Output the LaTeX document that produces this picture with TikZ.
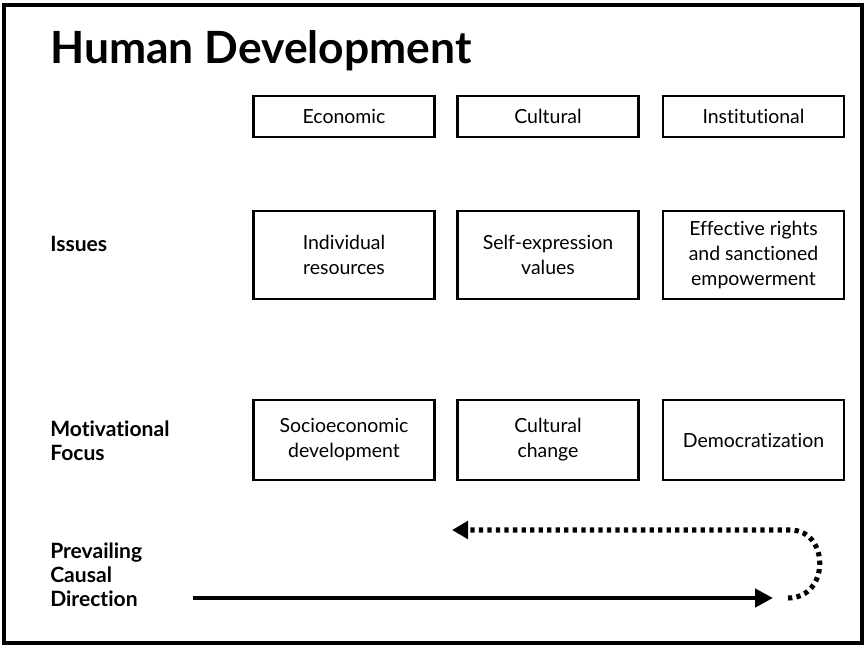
\documentclass[tikz,border=0pt]{standalone}
\usepackage{fontspec}
\setmainfont{Lato}[Ligatures=NoCommon]
\usetikzlibrary{arrows.meta}

\tikzset{
  box/.style={draw, line width=2.2pt, minimum width=135.75pt, inner sep=0pt,
    align=center, font=\fontsize{14.6}{18.75}\selectfont},
  rowlabel/.style={anchor=west, align=left, inner sep=0pt,
    font=\bfseries\fontsize{15.8}{18}\selectfont},
}

\begin{document}
\begin{tikzpicture}[x=0.75pt, y=-0.75pt]
  \useasboundingbox (0,0) rectangle (866,646);

  % frame
  \draw[line width=2.4pt] (4,5) rectangle (862,643);

  \node[anchor=base west, inner sep=0pt, font=\bfseries\fontsize{33.3}{40}\selectfont]
    (title) at (50,63) {Human Development};

  % row labels
  \node[rowlabel] (issues) at (50,244) {Issues};
  \node[rowlabel] (motiv) at (50,441) {Motivational\\Focus};
  \node[rowlabel] (prevail) at (50,575) {Prevailing\\Causal\\Direction};

  % column headings
  \foreach \name/\x/\txt in {econ/344/Economic, cult/548/Cultural, inst/753.5/Institutional} {
    \node[box, minimum height=30.75pt] (\name) at (\x,116.5) {\txt};
  }

  % issues
  \node[box, minimum height=66pt] (resources) at (344,255) {Individual\\resources};
  \node[box, minimum height=66pt] (values) at (548,255) {Self-expression\\values};
  \node[box, minimum height=66pt] (rights) at (753.5,255) {Effective rights\\and sanctioned\\empowerment};

  % motivational focus
  \node[box, minimum height=60pt] (socio) at (344,440) {Socioeconomic\\development};
  \node[box, minimum height=60pt] (change) at (548,440) {Cultural\\change};
  \node[box, minimum height=60pt] (democ) at (753.5,440) {Democratization};

  % causal direction
  \coordinate (solidstart) at (193,598);
  \coordinate (solidend) at (773,598);
  \coordinate (dotstart) at (788,598);
  \coordinate (dotturn) at (790,530);
  \coordinate (dotend) at (452,530);

  \draw[line width=3.7pt, -{Triangle[length=13.5pt, width=13.5pt]}]
    (solidstart) -- (solidend);
  \draw[line width=3.8pt, dash pattern=on 3.2pt off 3.2pt, -{Triangle[length=12pt, width=13pt]}]
    (dotstart) .. controls (830,598) and (830,530) .. (dotturn) -- (dotend);
\end{tikzpicture}
\end{document}
